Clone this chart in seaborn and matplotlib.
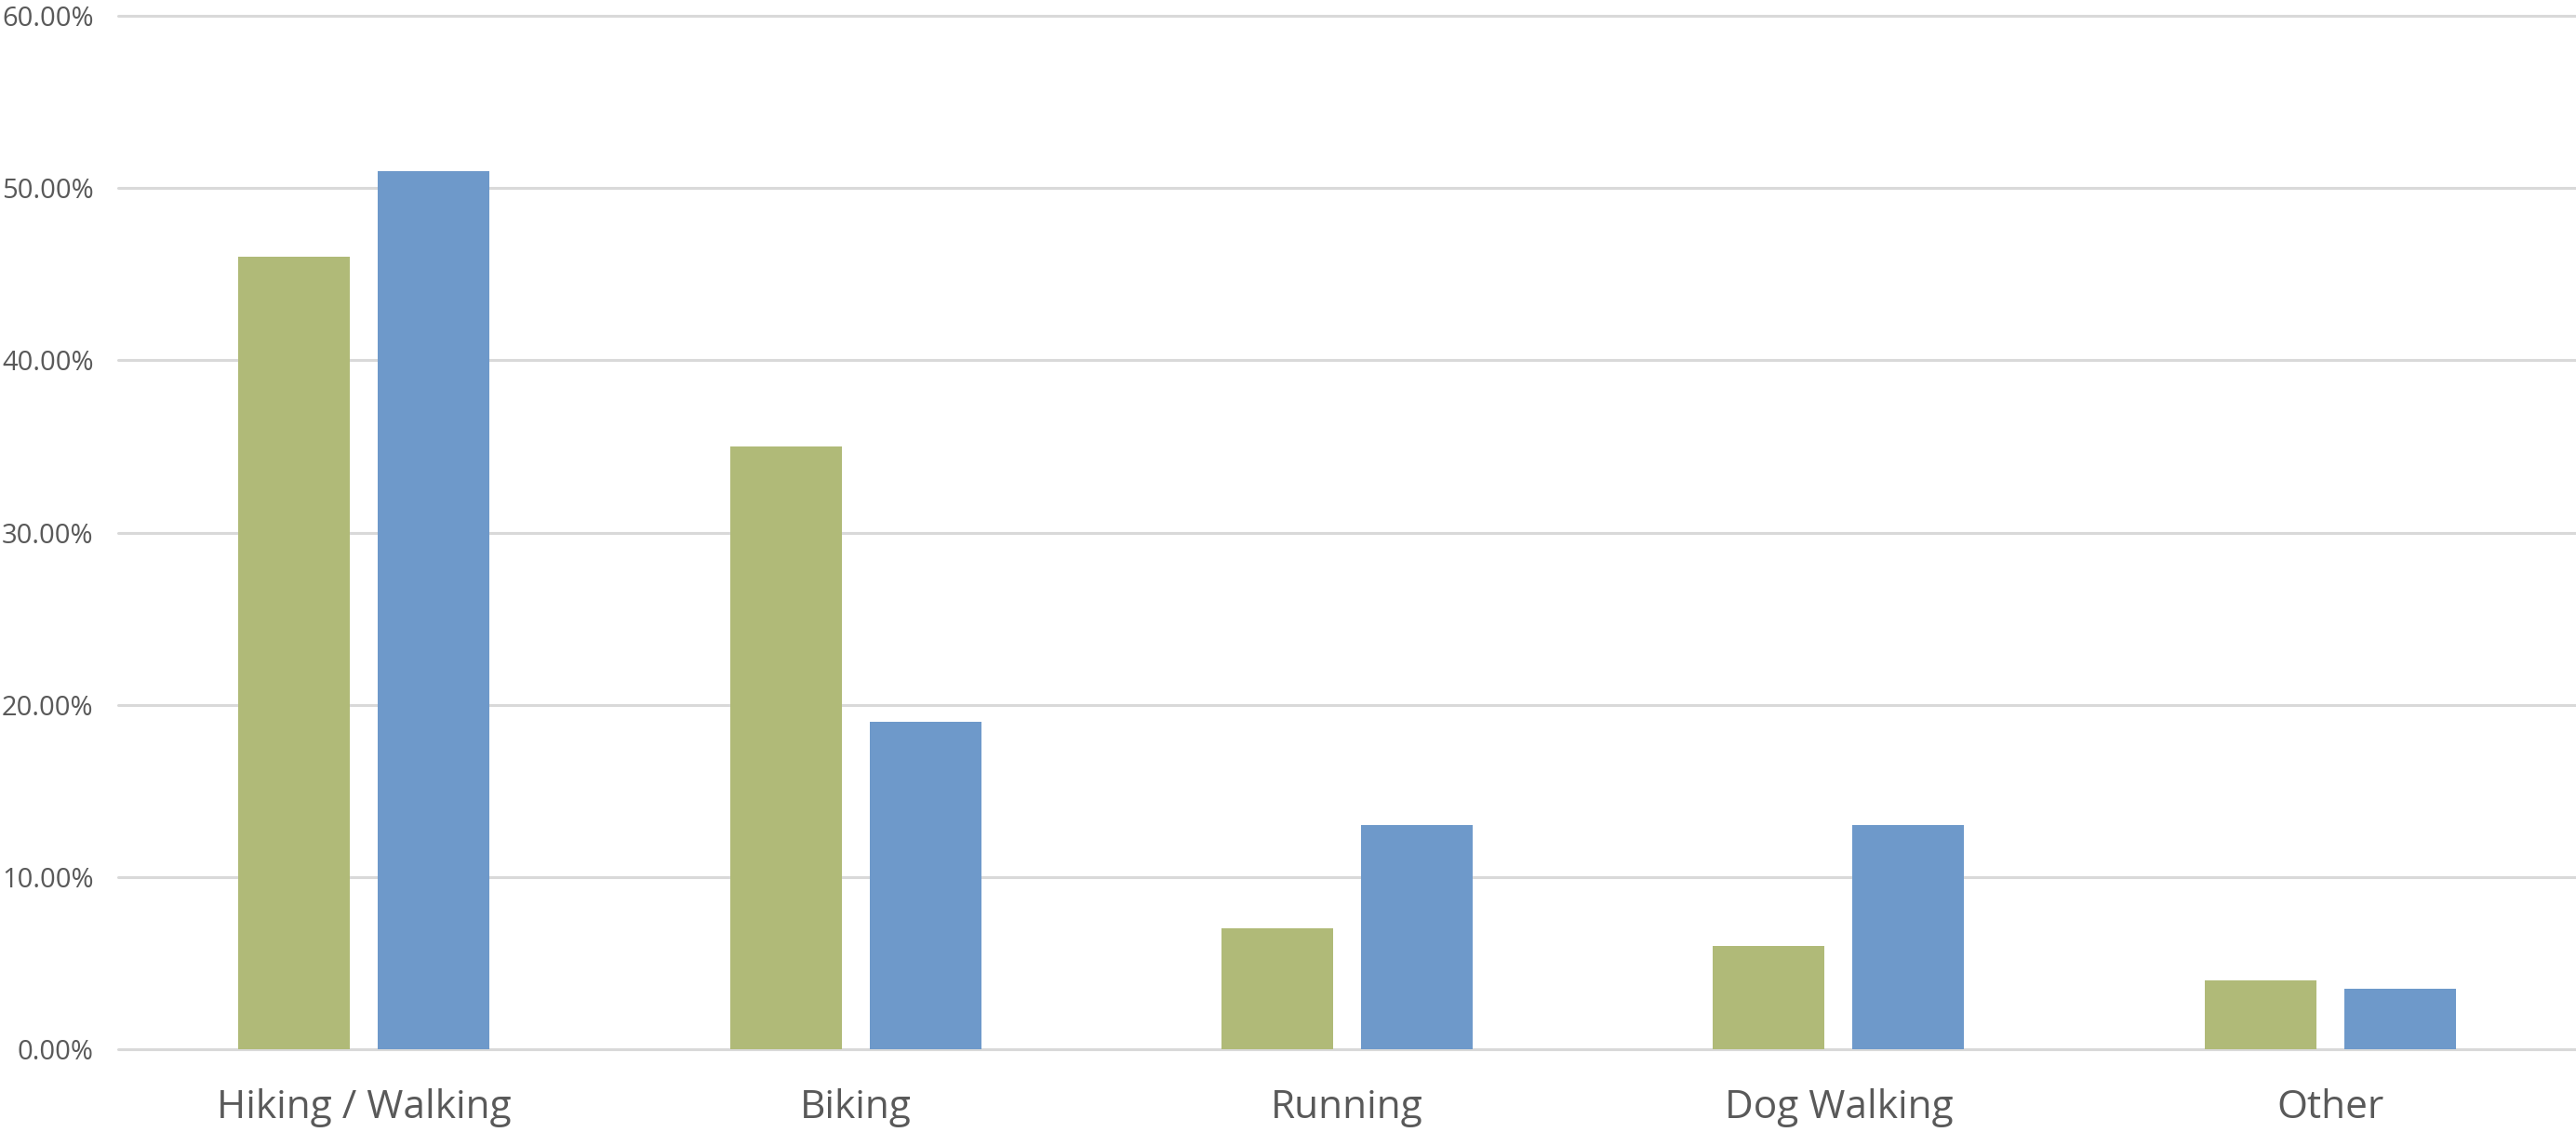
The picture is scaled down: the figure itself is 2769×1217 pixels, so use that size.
import matplotlib
matplotlib.use("Agg")
import matplotlib.pyplot as plt
import seaborn as sns
import pandas as pd
from matplotlib.ticker import FuncFormatter

categories = ["Hiking / Walking", "Biking", "Running", "Dog Walking", "Other"]
series_a = [46.0, 35.0, 7.0, 6.0, 4.0]
series_b = [51.0, 19.0, 13.0, 13.0, 3.5]
series_names = ["Series A", "Series B"]
colors = ["#B0BA78", "#6E99CA"]

df = pd.DataFrame({
    "category": categories * 2,
    "value": [v / 100 for v in series_a] + [v / 100 for v in series_b],
    "series": [series_names[0]] * len(categories) + [series_names[1]] * len(categories),
})

sns.set_theme(style="white")
plt.rcParams['font.family'] = ['Open Sans', 'DejaVu Sans']

fig = plt.figure(figsize=(27.69, 12.17), dpi=100)
ax = fig.add_axes([127 / 2769, 1 - 1128 / 1217, 1 - 127 / 2769, (1128 - 17) / 1217])

sns.barplot(data=df, x="category", y="value", hue="series", order=categories,
            hue_order=series_names, palette=colors, width=0.568, gap=0.2,
            saturation=1, ax=ax, legend=False, linewidth=0)

ax.set_ylim(0, 0.6)
ax.set_xlim(-0.5, len(categories) - 0.5)
ax.set_yticks([0, 0.1, 0.2, 0.3, 0.4, 0.5, 0.6])
ax.yaxis.set_major_formatter(FuncFormatter(lambda v, p: f"{v*100:.2f}%"))
ax.grid(axis="y", color="#D9D9D9", linewidth=2.2)
ax.set_axisbelow(True)
for gl in ax.get_ygridlines():
    gl.set_clip_on(False)
for s in ax.spines.values():
    s.set_visible(False)
ax.set_xlabel("")
ax.set_ylabel("")
ax.tick_params(axis="y", length=0, pad=19, labelsize=21, labelcolor="#595959")
ax.tick_params(axis="x", length=0, pad=30, labelsize=30.5, labelcolor="#595959")

fig.savefig("out.png", dpi=100, facecolor="white")
